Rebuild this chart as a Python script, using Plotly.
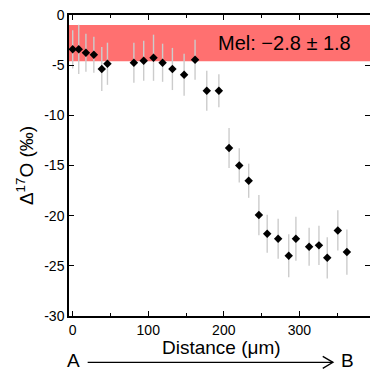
import plotly.graph_objects as go

# ---- data ----
distance_um = [0, 8, 17.5, 28, 38.5, 46, 81, 94, 107, 119, 132, 147.5, 162, 177.5,
               193.5, 207, 220.5, 233, 246.5, 257.5, 272, 286, 295.5, 313, 326, 337, 351, 363]
d17O = [-3.42, -3.42, -3.76, -3.96, -5.38, -4.86, -4.76, -4.56, -4.26, -4.76, -5.38, -5.95,
        -4.46, -7.55, -7.55, -13.26, -14.99, -16.52, -19.94, -21.8, -22.3, -24.0, -22.3,
        -23.1, -22.96, -24.2, -21.47, -23.63]
d17O_err = [1.9, 2.45, 1.9, 1.8, 2.2, 2.1, 2.0, 2.0, 2.3, 1.9, 2.1, 2.1, 2.0, 2.0, 1.65,
            2.0, 1.7, 1.7, 2.0, 1.9, 2.0, 2.15, 2.2, 1.9, 1.95, 2.05, 2.0, 2.25]

mel_mean = -2.8
mel_sd = 1.8
mel_label = "Mel: \u22122.8 \u00b1 1.8"

x_tickvals = [0, 100, 200, 300]
x_ticktext = ["0", "100", "200", "300"]
y_tickvals = [0, -5, -10, -15, -20, -25, -30]
y_ticktext = ["0", "-5", "-10", "-15", "-20", "-25", "-30"]

x_title = "Distance (\u03bcm)"
y_title = "\u0394<sup>17</sup>O (\u2030)"

FONT = "Arial, Liberation Sans, sans-serif"

fig = go.Figure()
fig.add_trace(go.Scatter(
    x=distance_um, y=d17O, mode="markers",
    marker=dict(symbol="diamond", size=6.5, color="black"),
    error_y=dict(type="data", array=d17O_err, visible=True,
                 color="#cccccc", thickness=1.4, width=0),
    showlegend=False,
))

# Mel band
fig.add_shape(type="rect", xref="paper", x0=0, x1=1, yref="y",
              y0=mel_mean - mel_sd, y1=mel_mean + mel_sd,
              fillcolor="#ff7070", line_width=0, layer="below")
fig.add_annotation(text=mel_label, xref="paper", x=0.716, yref="y", y=mel_mean,
                   xanchor="center", yanchor="middle",
                   showarrow=False, font=dict(family=FONT, size=20, color="black"))

# x-axis title placed just under the tick labels
fig.add_annotation(text=x_title, xref="paper", x=0.508, yref="paper", y=-0.106,
                   xanchor="center", yanchor="middle",
                   showarrow=False, font=dict(family=FONT, size=19, color="black"))

# A -> B arrow under the axis
fig.add_annotation(text="A", xref="paper", x=0.015, yref="paper", y=-0.149,
                   xanchor="center", yanchor="middle",
                   showarrow=False, font=dict(family=FONT, size=19, color="black"))
fig.add_annotation(text="B", xref="paper", x=0.925, yref="paper", y=-0.149,
                   xanchor="center", yanchor="middle",
                   showarrow=False, font=dict(family=FONT, size=19, color="black"))
fig.add_shape(type="line", xref="paper", yref="paper", x0=0.062, x1=0.877,
              y0=-0.154, y1=-0.154, line=dict(color="black", width=1.3))
fig.add_shape(type="path", xref="paper", yref="paper",
              path="M 0.843,-0.134 L 0.877,-0.154 L 0.843,-0.174",
              line=dict(color="black", width=1.3))

axis_common = dict(
    showline=True, linecolor="black", linewidth=1.5, mirror="allticks",
    ticks="inside", ticklen=5, tickwidth=1.2, tickcolor="black",
    showgrid=False, zeroline=False, automargin=False,
    tickfont=dict(family=FONT, size=14, color="black"),
)

fig.update_xaxes(
    range=[-4.9, 393.6], tickmode="array", tickvals=x_tickvals, ticktext=x_ticktext,
    minor=dict(ticks="inside", ticklen=3, tickwidth=1.2, tickcolor="black", dtick=50,
               tick0=0, showgrid=False),
    **axis_common,
)
fig.update_yaxes(
    range=[-30, 0], tickmode="array", tickvals=y_tickvals, ticktext=y_ticktext,
    title=dict(text=y_title, font=dict(family=FONT, size=19, color="black"),
               standoff=6),
    **axis_common,
)

fig.update_layout(
    width=370, height=372,
    margin=dict(l=69, r=0, t=15, b=56, autoexpand=False),
    plot_bgcolor="white", paper_bgcolor="white",
    font=dict(family=FONT, color="black"),
)

fig.write_html("out.html", config={"displayModeBar": False},
               post_script="document.body.style.margin='0px';")
